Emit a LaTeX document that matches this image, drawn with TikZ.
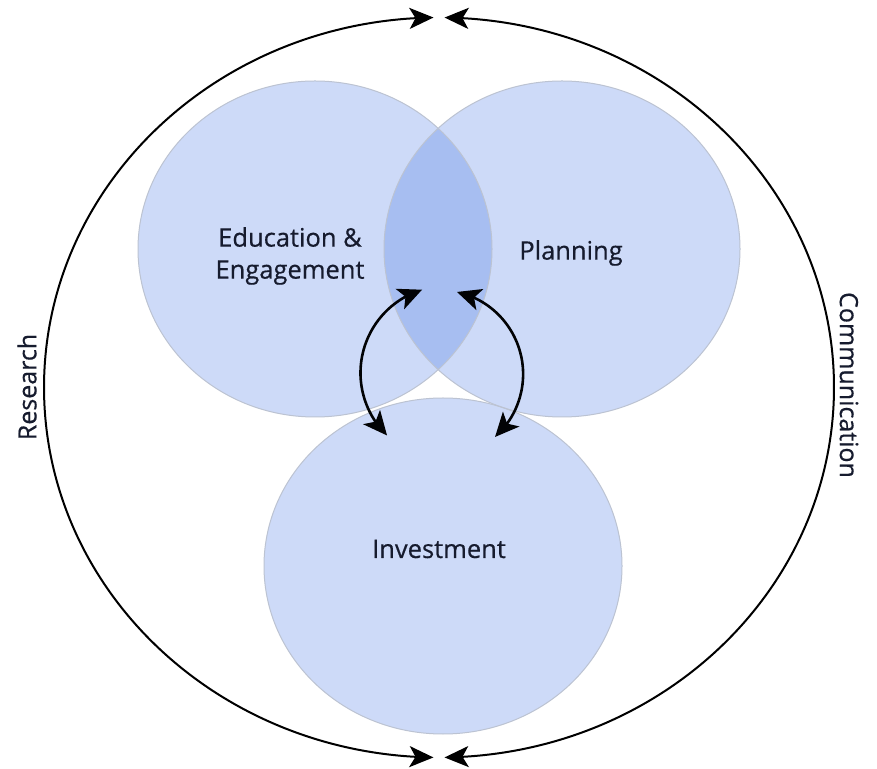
\documentclass[tikz,border=0pt]{standalone}
\usepackage{fontspec}
\setmainfont{Open Sans}[FakeBold=0.5]
\newfontfamily\lblfont{Open Sans}[FakeBold=0.5]
\usetikzlibrary{arrows.meta,bending}
\definecolor{cfill}{HTML}{CDDAF8}
\definecolor{lensfill}{HTML}{A7BEF1}
\definecolor{cedge}{HTML}{BCC3D2}
\definecolor{ink}{HTML}{161B2E}
\begin{document}
\begin{tikzpicture}[x=1pt,y=1pt,
  lbl/.style={text=ink,font=\lblfont\fontsize{25.5}{32}\selectfont,align=center,inner sep=0pt},
  side/.style={text=ink,font=\lblfont\fontsize{25}{30}\selectfont,inner sep=0pt},
  bigarc/.style={line width=2pt,black,{Stealth[length=24pt,width=21pt,inset=6pt]}-{Stealth[length=24pt,width=21pt,inset=6pt]}},
  smallarc/.style={line width=2.6pt,black!90!ink,{Stealth[length=24pt,width=22pt,inset=6pt]}-{Stealth[length=24pt,width=22pt,inset=6pt]}},
  edge/.style={draw=cedge,line width=1pt}]
\useasboundingbox (0,0) rectangle (877,768);
\fill[white] (0,0) rectangle (877,768);
% circles
\fill[cfill] (315,519) ellipse [x radius=177, y radius=168];
\fill[cfill] (562,519) ellipse [x radius=178, y radius=168];
\fill[cfill] (443,202) ellipse [x radius=179, y radius=168];
\begin{scope}
  \clip (315,519) ellipse [x radius=177, y radius=168];
  \fill[lensfill] (562,519) ellipse [x radius=178, y radius=168];
\end{scope}
\draw[edge] (315,519) ellipse [x radius=177, y radius=168];
\draw[edge] (562,519) ellipse [x radius=178, y radius=168];
\draw[edge] (443,202) ellipse [x radius=179, y radius=168];
% labels
\node[lbl] (edu) at (290,512) {Education \&\\Engagement};
\node[lbl] (plan) at (571,515) {Planning};
\node[lbl] (inv) at (439,219) {Investment};
\node[side,rotate=90] (res) at (27,381) {Research};
\node[side,rotate=-90] (com) at (849,383) {Communication};
% outer arcs
\coordinate (tl) at ({439+395*cos(90.8)},{380.5+370*sin(90.8)});
\coordinate (tr) at ({439+395*cos(89.2)},{380.5+370*sin(89.2)});
\draw[bigarc] (tl) arc[start angle=90.8, end angle=269.2, x radius=395, y radius=370];
\draw[bigarc] (tr) arc[start angle=89.2, end angle=-89.2, x radius=395, y radius=370];
% inner arrows (circular arcs)
\coordinate (lt) at ({447.5+87*cos(107)},{395.1+87*sin(107)});
\coordinate (rt) at ({438.9+84.2*cos(77.6)},{393.8+84.2*sin(77.6)});
\draw[smallarc] (lt) arc[start angle=107, end angle=226, radius=87];
\draw[smallarc] (rt) arc[start angle=77.6, end angle=-48.2, radius=84.2];
\end{tikzpicture}
\end{document}
